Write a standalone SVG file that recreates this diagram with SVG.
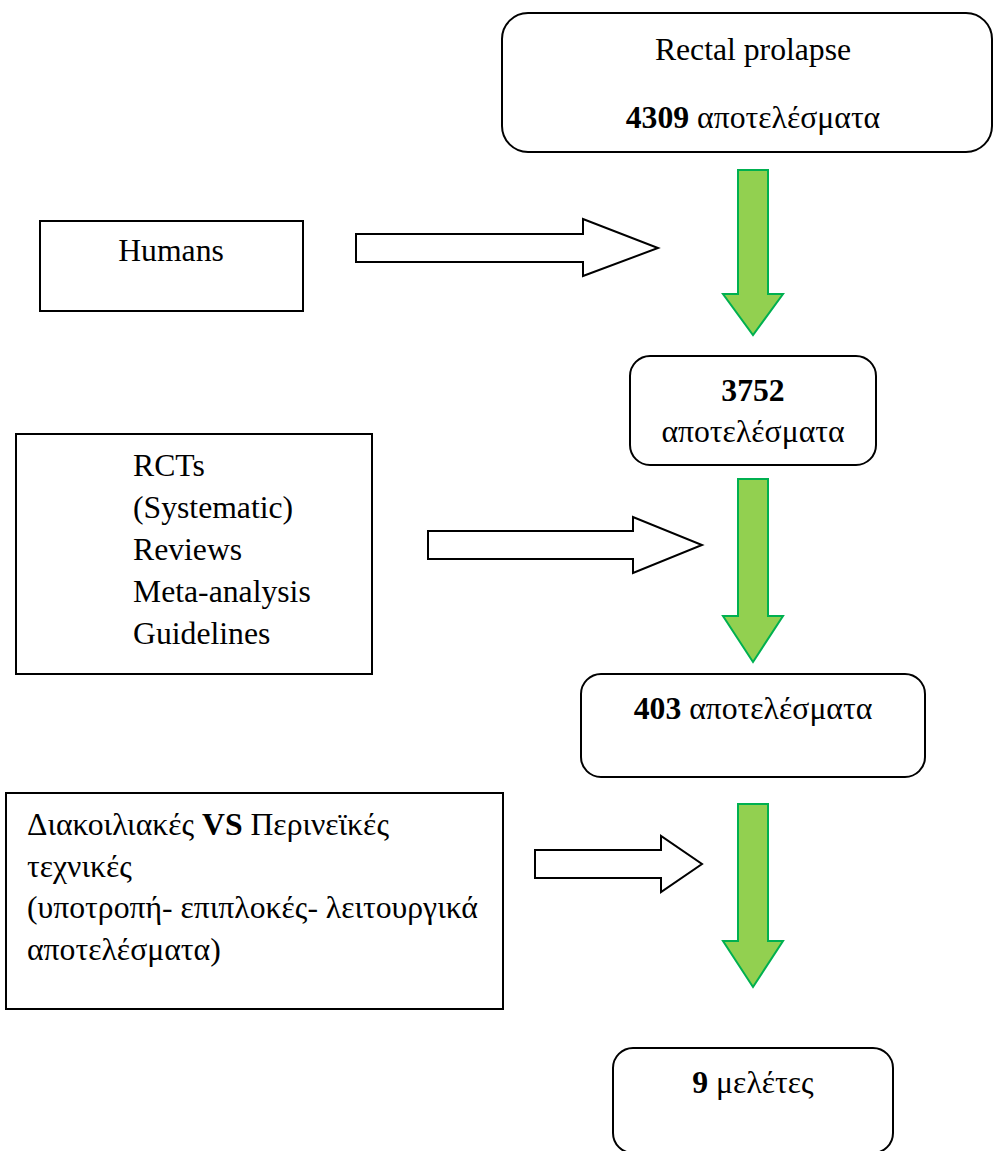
<svg xmlns="http://www.w3.org/2000/svg" width="994" height="1151" viewBox="0 0 994 1151">
<style>
  text { font-family: "Liberation Serif", "DejaVu Serif", serif; font-size: 31.7px; fill: #000; }
  .c { text-anchor: middle; }
  .b { font-weight: bold; }
  .box { fill: #fff; stroke: #000; stroke-width: 2; }
  .green { fill: #92D050; stroke: #00B050; stroke-width: 2; stroke-linejoin: miter; }
  .white { fill: #fff; stroke: #000; stroke-width: 2; stroke-linejoin: miter; }
</style>
<rect width="994" height="1151" fill="#fff"/>
<g id="connectors">
  <path class="green" d="M738,170 H768 V294 H783 L753,335 L723,294 H738 Z"/>
  <path class="green" d="M738,479 H768 V616 H783 L753,662 L723,616 H738 Z"/>
  <path class="green" d="M738,804 H768 V941 H783 L753,987 L723,941 H738 Z"/>
  <path class="white" d="M356,234 H583 V219 L658,248 L583,276 V262 H356 Z"/>
  <path class="white" d="M428,531 H633 V517 L702,545 L633,573 V559 H428 Z"/>
  <path class="white" d="M535,850 H661 V836 L702,864 L661,892 V878 H535 Z"/>
</g>
<g id="node-rectal">
  <rect class="box" x="502" y="13" width="490" height="139" rx="26" ry="26"/>
  <text class="c" x="753" y="60">Rectal prolapse</text>
  <text class="c" x="753" y="128"><tspan class="b">4309</tspan> αποτελέσματα</text>
</g>
<g id="node-humans">
  <rect class="box" x="40" y="221" width="263" height="90"/>
  <text class="c" x="171" y="261">Humans</text>
</g>
<g id="node-3752">
  <rect class="box" x="630" y="356" width="246" height="109" rx="20" ry="20"/>
  <text class="c b" x="753" y="401">3752</text>
  <text class="c" x="753" y="442">αποτελέσματα</text>
</g>
<g id="node-rcts">
  <rect class="box" x="16" y="434" width="356" height="240"/>
  <text x="133" y="476">RCTs</text>
  <text x="133" y="518">(Systematic)</text>
  <text x="133" y="560">Reviews</text>
  <text x="133" y="602">Meta-analysis</text>
  <text x="133" y="644">Guidelines</text>
</g>
<g id="node-403">
  <rect class="box" x="581" y="674" width="344" height="103" rx="20" ry="20"/>
  <text class="c" x="753" y="719"><tspan class="b">403</tspan> αποτελέσματα</text>
</g>
<g id="node-techniques">
  <rect class="box" x="6" y="793" width="497" height="216"/>
  <text x="27" y="835">Διακοιλιακές <tspan class="b">VS</tspan> Περινεϊκές</text>
  <text x="27" y="877">τεχνικές</text>
  <text x="27" y="918">(υποτροπή- επιπλοκές- λειτουργικά</text>
  <text x="27" y="960">αποτελέσματα)</text>
</g>
<g id="node-9">
  <rect class="box" x="613" y="1048" width="280" height="105" rx="20" ry="20"/>
  <text class="c" x="753" y="1093"><tspan class="b">9</tspan> μελέτες</text>
</g>
</svg>
